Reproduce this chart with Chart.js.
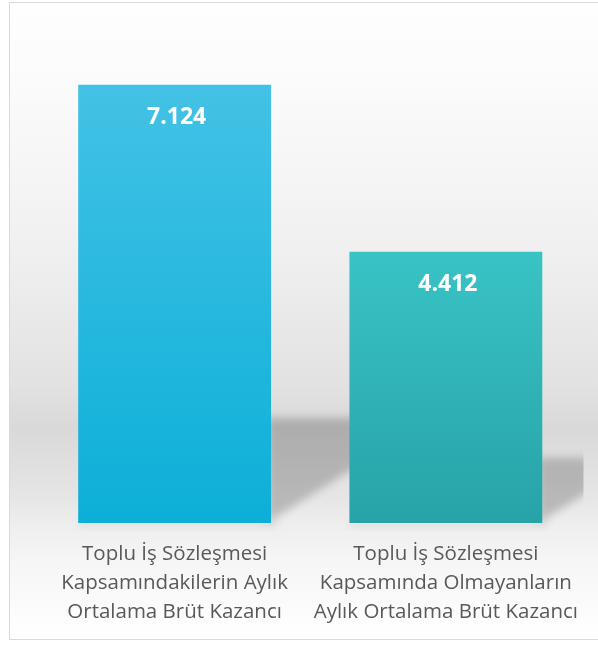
<!DOCTYPE html>
<html lang="tr">
<head>
<meta charset="utf-8">
<title>Toplu İş Sözleşmesi Kazanç</title>
<script src="https://cdn.jsdelivr.net/npm/chart.js@4.4.1/dist/chart.umd.min.js"></script>
<style>
    html, body { margin: 0; padding: 0; background: #ffffff; overflow: hidden; }
    #wrap { position: relative; width: 598px; height: 645px; }
</style>
</head>
<body>
<div id="wrap"><canvas id="earningsChart"></canvas></div>
<script>
// Chart data
const categories = [
    ['Toplu İş Sözleşmesi', 'Kapsamındakilerin Aylık', 'Ortalama Brüt Kazancı'],
    ['Toplu İş Sözleşmesi', 'Kapsamında Olmayanların', 'Aylık Ortalama Brüt Kazancı']
];
const earnings = [7124, 4412];
const barTopColors = ['#43c2e5', '#39c3c5'];
const barBottomColors = ['#0cafd8', '#27a3a7'];

// 7124 -> "7.124"
function formatTr(value) {
    return String(value).replace(/\B(?=(\d{3})+(?!\d))/g, '.');
}

// Framed background with the grey "wall" gradient
const framePlugin = {
    id: 'frame',
    beforeDraw(chart) {
        const ctx = chart.ctx;
        const g = ctx.createLinearGradient(0, 2, 0, 639);
        g.addColorStop(0, '#fefefe');
        g.addColorStop(0.13, '#fbfbfb');
        g.addColorStop(0.39, '#f0f0f0');
        g.addColorStop(0.6, '#e2e2e2');
        g.addColorStop(0.67, '#d9d9d9');
        g.addColorStop(0.78, '#e6e6e6');
        g.addColorStop(0.82, '#eeeeee');
        g.addColorStop(0.88, '#f6f6f6');
        g.addColorStop(1, '#ffffff');
        ctx.save();
        ctx.fillStyle = g;
        ctx.fillRect(9, 2, 700, 637);
        ctx.strokeStyle = '#d9d9d9';
        ctx.lineWidth = 1;
        ctx.strokeRect(9.5, 2.5, 700, 637);
        ctx.restore();
    }
};

// Soft shadow cast to the right of each bar
const shadowPlugin = {
    id: 'barShadow',
    beforeDatasetsDraw(chart) {
        const ctx = chart.ctx;
        const area = chart.chartArea;
        const meta = chart.getDatasetMeta(0);
        ctx.save();
        ctx.beginPath();
        ctx.rect(area.left, area.top, area.right - area.left + 2, area.bottom - area.top + 8);
        ctx.clip();
        ctx.filter = 'blur(4px)';
        meta.data.forEach(bar => {
            const right = bar.x + bar.width / 2;
            const left = bar.x - bar.width / 2;
            const h = bar.base - bar.y;
            const sTop = bar.base - h * 0.24;
            const reach = (bar.base - sTop) / 0.65;
            ctx.fillStyle = 'rgba(0, 0, 0, 0.2)';
            ctx.beginPath();
            ctx.moveTo(right - 4, bar.base);
            ctx.lineTo(right - 4, sTop);
            ctx.lineTo(right + reach, sTop);
            ctx.closePath();
            ctx.fill();
            // thin shade under the bar
            ctx.fillStyle = 'rgba(0, 0, 0, 0.07)';
            ctx.fillRect(left, bar.base - 2, bar.width + 6, 6);
        });
        ctx.restore();
    }
};

// White value labels inside the top of each bar
const valueLabelPlugin = {
    id: 'valueLabels',
    afterDatasetsDraw(chart) {
        const ctx = chart.ctx;
        const meta = chart.getDatasetMeta(0);
        ctx.save();
        ctx.fillStyle = '#ffffff';
        ctx.font = 'bold 23px "Open Sans", sans-serif';
        ctx.textAlign = 'center';
        ctx.textBaseline = 'middle';
        meta.data.forEach((bar, i) => {
            ctx.fillText(formatTr(earnings[i]), bar.x + 2, bar.y + 33);
        });
        ctx.restore();
    }
};

document.addEventListener('DOMContentLoaded', function() {
    const ctx = document.getElementById('earningsChart').getContext('2d');
    new Chart(ctx, {
        type: 'bar',
        data: {
            labels: categories,
            datasets: [{
                data: earnings,
                backgroundColor: function(context) {
                    const chart = context.chart;
                    const i = context.dataIndex;
                    if (!chart.chartArea) {
                        return barTopColors[i];
                    }
                    const y = chart.scales.y;
                    const top = y.getPixelForValue(earnings[i]);
                    const bottom = y.getPixelForValue(0);
                    const g = chart.ctx.createLinearGradient(0, top, 0, bottom);
                    g.addColorStop(0, barTopColors[i]);
                    g.addColorStop(1, barBottomColors[i]);
                    return g;
                },
                borderWidth: 0,
                categoryPercentage: 1,
                barPercentage: 0.711
            }]
        },
        options: {
            responsive: true,
            maintainAspectRatio: false,
            animation: false,
            layout: {
                padding: { left: 39, right: 12, top: 82, bottom: 1 }
            },
            plugins: {
                legend: { display: false },
                tooltip: { enabled: false }
            },
            scales: {
                y: {
                    display: false,
                    beginAtZero: true,
                    min: 0,
                    max: 7170
                },
                x: {
                    grid: { display: false, drawTicks: false },
                    border: { display: false },
                    ticks: {
                        color: '#595959',
                        autoSkip: false,
                        maxRotation: 0,
                        minRotation: 0,
                        padding: 17,
                        font: { family: '"Open Sans", sans-serif', size: 20.5, lineHeight: '29px' }
                    }
                }
            }
        },
        plugins: [framePlugin, shadowPlugin, valueLabelPlugin]
    });
});
</script>
</body>
</html>
